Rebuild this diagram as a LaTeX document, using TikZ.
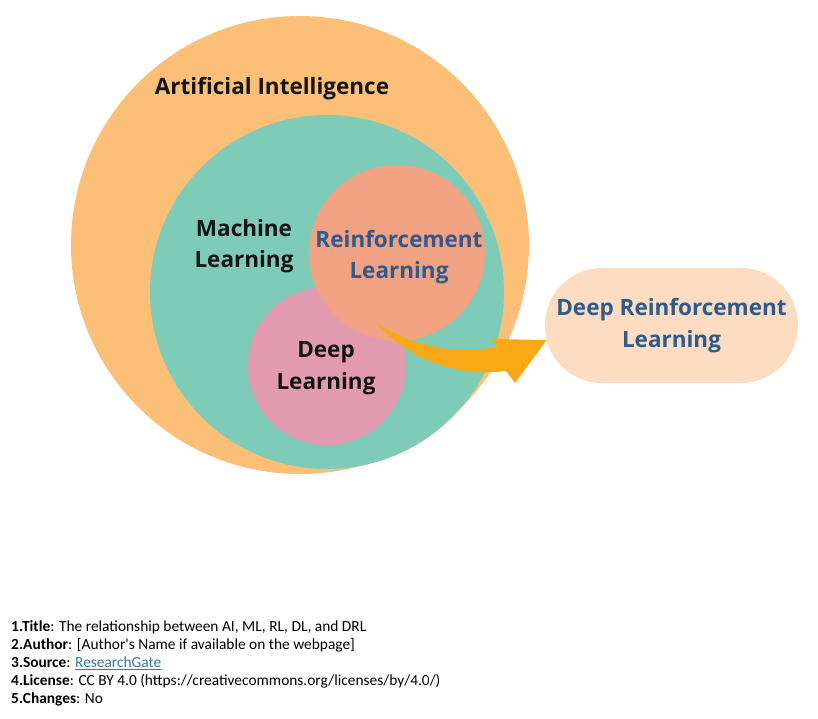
\documentclass[tikz,border=0pt]{standalone}
\usepackage{fontspec}
\setmainfont{Open Sans}
\newfontfamily\notefont{Carlito}
\usetikzlibrary{calc}
\definecolor{aiorange}  {RGB}{252, 191, 120}
\definecolor{mlgreen}   {RGB}{126, 204, 183}
\definecolor{rlsalmon}  {RGB}{240, 162, 130}
\definecolor{dlpink}    {RGB}{227, 155, 178}
\definecolor{drlpeach}  {RGB}{252, 221, 194}
\definecolor{arrowgold} {RGB}{249, 168,  22}
\definecolor{rlblue}    {RGB}{ 46,  90, 140}
\definecolor{lblblack}  {RGB}{ 20,  20,  20}
\definecolor{linkblue}  {RGB}{ 50, 120, 170}

\begin{document}
\begin{tikzpicture}[x=1pt,y=-1pt,
	set/.style={circle,inner sep=0pt},
	setlbl/.style={align=center,font=\fontsize{22.5}{31.5}\selectfont\bfseries,text=lblblack}]
	\useasboundingbox (0,0) rectangle (818,718);
	\fill[white] (0,0) rectangle (818,718);
	\node[set,fill=aiorange,minimum size=458pt] (ai) at (300,245) {};
	\node[set,fill=mlgreen,minimum size=354pt] (ml) at (327,292) {};
	\node[set,fill=dlpink,minimum size=158pt] (dl) at (327,366) {};
	\node[set,fill=rlsalmon,minimum size=176pt] (rl) at (397,253) {};
	\node[setlbl] (ailbl) at (272,89) {Artificial Intelligence};
	\node[setlbl] (mllbl) at (244,246) {Machine\\Learning};
	\node[setlbl,text=rlblue] (rllbl) at (399,257) {Reinforcement\\Learning};
	\node[setlbl] (dllbl) at (326,368) {Deep\\Learning};
	\node[setlbl,text=rlblue,fill=drlpeach,rounded corners=57pt,minimum width=253pt,minimum height=115pt] (drl) at (671.5,325.5) {Deep Reinforcement\\Learning};
	\coordinate (arrtail) at (375,322);
	\coordinate (arrtip) at ($(drl.west)+(2,14.5)$);
	\fill[arrowgold] (arrtail) .. controls (410,345) and (450,355) .. (497,347) -- (492,339) -- (arrtip) -- (515,383) -- (506,371) .. controls (450,378) and (405,355) .. (arrtail) -- cycle;
	\node[anchor=north west,inner sep=0pt,align=left,font=\notefont\fontsize{15.4}{18.2}\selectfont] (notes) at (11,620) {\textbf{1.Title}: The relationship between AI, ML, RL, DL, and DRL\\
		\textbf{2.Author}: [Author's Name if available on the webpage]\\
		\textbf{3.Source}: \textcolor{linkblue}{\underline{ResearchGate}}\\
		\textbf{4.License}: CC BY 4.0 (https://creativecommons.org/licenses/by/4.0/)\\
		\textbf{5.Changes}: No};
\end{tikzpicture}
\end{document}
